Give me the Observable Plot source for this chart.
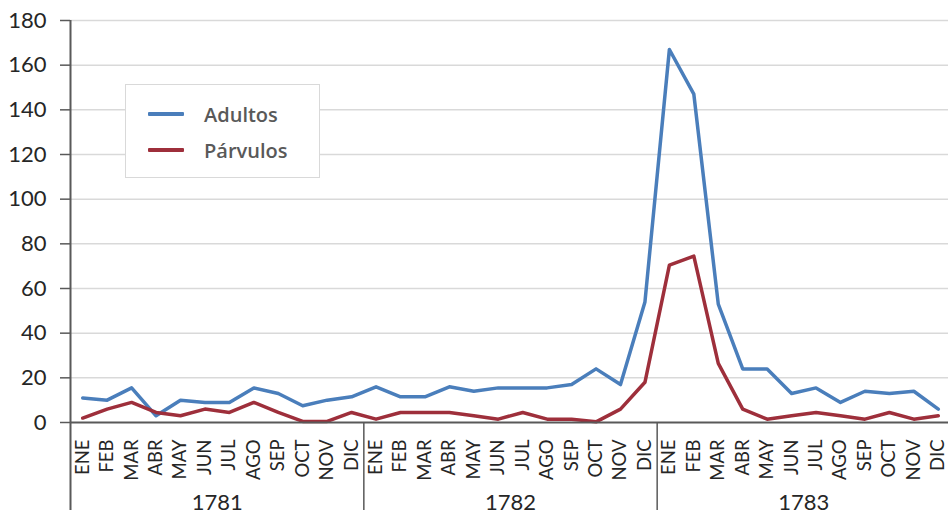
<!DOCTYPE html>
<html>
<head>
<meta charset="utf-8">
<script src="https://cdn.jsdelivr.net/npm/d3@7"></script>
<script src="https://cdn.jsdelivr.net/npm/@observablehq/plot@0.6"></script>
<style>
  body { margin: 0; background: #fff; }
  #wrap { position: relative; width: 948px; height: 517px; }
  .legend { position: absolute; left: 125px; top: 84px; width: 195px; height: 94px; box-sizing: border-box;
    border: 1px solid #d9d9d9; background: #fff; font-family: "Open Sans", Lato, sans-serif; font-weight: 600;
    font-size: 20px; color: #595959; }
  .legend .item { position: absolute; left: 22px; height: 26px; display: flex; align-items: center; }
  .legend .swatch { width: 36px; height: 3.5px; border-radius: 1px; margin-right: 20px; }
</style>
</head>
<body>
<div id="wrap"></div>
<script>
const months = ["ENE", "FEB", "MAR", "ABR", "MAY", "JUN", "JUL", "AGO", "SEP", "OCT", "NOV", "DIC"];
const years = ["1781", "1782", "1783"];
const adultos = [
  11, 10, 15.5, 3, 10, 9, 9, 15.5, 13, 7.5, 10, 11.5,
  16, 11.5, 11.5, 16, 14, 15.5, 15.5, 15.5, 17, 24, 17, 54,
  167, 147, 53, 24, 24, 13, 15.5, 9, 14, 13, 14, 6
];
const parvulos = [
  2, 6, 9, 4.5, 3, 6, 4.5, 9, 4.5, 0.5, 0.5, 4.5,
  1.5, 4.5, 4.5, 4.5, 3, 1.5, 4.5, 1.5, 1.5, 0.3, 6, 18,
  70.5, 74.5, 26.5, 6, 1.5, 3, 4.5, 3, 1.5, 4.5, 1.5, 3
];
const yTicks = [0, 20, 40, 60, 80, 100, 120, 140, 160, 180];
const seriesNames = ["Adultos", "Párvulos"];
const seriesColors = ["#4a7ebb", "#9e2f3b"];

const rows = [];
years.forEach((yr, yi) => months.forEach((m, mi) => {
  const i = yi * 12 + mi;
  rows.push({pos: i + 0.5, month: m, year: yr, adultos: adultos[i], parvulos: parvulos[i]});
}));
const yearRows = years.map((yr, yi) => ({year: yr, mid: yi * 12 + 6}));
const bounds = years.map((yr, yi) => (yi + 1) * 12);

const axisColor = "#595959";
const chart = Plot.plot({
  width: 948,
  height: 517,
  marginLeft: 70,
  marginRight: 0,
  marginTop: 20,
  marginBottom: 95,
  x: {type: "linear", domain: [0, 36], range: [70, 950], axis: null},
  y: {domain: [0, 180], axis: null},
  style: {fontFamily: "Lato, 'Noto Sans', sans-serif", color: "#262626", background: "#fff"},
  marks: [
    Plot.ruleY(yTicks.filter(d => d > 0), {stroke: "#d9d9d9", strokeWidth: 1.5}),
    Plot.line(rows, {x: "pos", y: "adultos", stroke: seriesColors[0], strokeWidth: 3.5}),
    Plot.line(rows, {x: "pos", y: "parvulos", stroke: seriesColors[1], strokeWidth: 3.5}),
    Plot.ruleY([0], {stroke: axisColor, strokeWidth: 2}),
    Plot.ruleX([0], {y1: 180, y2: 0, insetBottom: -88, stroke: axisColor, strokeWidth: 2}),
    Plot.ruleX(bounds, {y1: 0, y2: 0, insetBottom: -88, stroke: axisColor, strokeWidth: 1.5}),
    Plot.axisY({ticks: yTicks, tickSize: 10, tickPadding: 14, fontSize: 22, stroke: axisColor, strokeWidth: 1.5, fill: "#262626"}),
    Plot.text(rows, {x: "pos", y: 0, text: "month", rotate: -90, textAnchor: "end", dy: 17, fontSize: 18.5, fill: "#262626"}),
    Plot.text(yearRows, {x: "mid", y: 0, text: "year", dy: 80, fontSize: 22, fill: "#262626"})
  ]
});
const wrap = document.getElementById("wrap");
wrap.appendChild(chart);

const legend = document.createElement("div");
legend.className = "legend";
seriesNames.forEach((name, k) => {
  const item = document.createElement("div");
  item.className = "item";
  item.style.top = (16 + k * 36) + "px";
  const sw = document.createElement("span");
  sw.className = "swatch";
  sw.style.background = seriesColors[k];
  const label = document.createElement("span");
  label.textContent = name;
  item.appendChild(sw);
  item.appendChild(label);
  legend.appendChild(item);
});
wrap.appendChild(legend);
</script>
</body>
</html>
